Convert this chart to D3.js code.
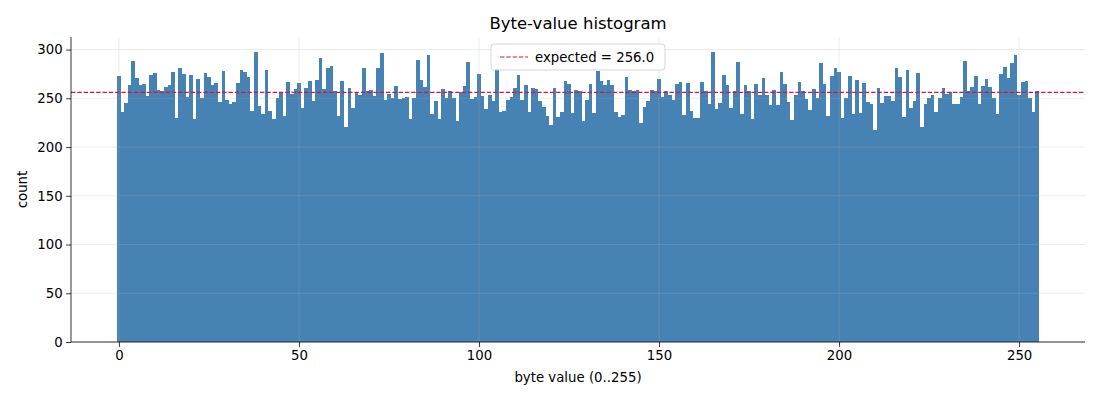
<!DOCTYPE html>
<html>
<head>
<meta charset="utf-8">
<script src="https://cdn.jsdelivr.net/npm/d3@7"></script>
<style>
  html, body { margin: 0; padding: 0; background: #fff; }
  svg { display: block; font-family: "DejaVu Sans", sans-serif; }
</style>
</head>
<body>
<svg id="chart" width="1100" height="400"></svg>
<script>
// ---- data ----
const counts = [
  273,236,245,264,288,271,264,265,252,274,276,259,258,262,264,277,
  230,281,275,251,274,229,270,250,276,272,264,266,246,278,248,244,
  246,266,279,277,272,237,298,242,234,279,237,229,250,256,232,267,
  254,260,266,240,261,268,247,269,291,260,281,283,257,232,268,221,
  261,240,255,253,281,258,259,252,281,296,248,254,250,263,249,250,
  251,229,250,289,269,262,294,234,247,229,260,250,258,250,227,256,
  263,287,249,251,275,252,239,253,247,280,236,237,248,251,261,274,
  248,264,236,261,260,247,241,232,223,261,231,236,268,265,235,259,
  257,227,248,265,235,278,268,264,269,264,236,231,233,272,259,257,
  259,225,241,247,259,258,270,251,257,253,248,265,267,233,266,237,
  230,230,267,258,244,298,239,245,274,264,240,258,287,234,264,258,
  229,265,253,271,253,243,259,243,277,265,246,228,253,267,258,249,
  238,260,250,286,265,232,273,281,277,230,250,273,234,269,235,266,
  246,244,217,261,245,252,252,247,281,272,231,279,240,247,276,221,
  244,250,253,236,250,261,254,256,244,244,251,288,257,262,273,244,
  263,270,262,250,234,275,282,271,286,294,253,267,268,250,236,258
];
const byteValues = d3.range(256);
const expectedCount = 256.0;
const xTicks = [0, 50, 100, 150, 200, 250];
const yTicks = [0, 50, 100, 150, 200, 250, 300];
const titleText = "Byte-value histogram";
const xLabelText = "byte value (0..255)";
const yLabelText = "count";
const legendText = "expected = " + expectedCount.toFixed(1);

// ---- layout ----
const svg = d3.select("#chart");
const L = 71, R = 1085, T = 37, B = 342;
const dataMin = -0.5, dataMax = 255.5, pad = (dataMax - dataMin) * 0.05;
const x = d3.scaleLinear().domain([dataMin - pad, dataMax + pad]).range([L, R]);
const yMax = d3.max(counts) * 1.05;
const y = d3.scaleLinear().domain([0, yMax]).range([B, T]);

// bars (edges snapped to whole pixels so neighbouring bars meet without seams)
svg.append("g").attr("shape-rendering", "crispEdges")
  .selectAll("rect").data(byteValues).join("rect")
  .attr("x", d => Math.round(x(d - 0.5)))
  .attr("width", d => Math.round(x(d + 0.5)) - Math.round(x(d - 0.5)))
  .attr("y", d => Math.round(y(counts[d])))
  .attr("height", d => Math.round(y(0)) - Math.round(y(counts[d])))
  .attr("fill", "#4682b4");

// grid (drawn above bars, translucent)
const grid = svg.append("g").attr("stroke", "#b0b0b0").attr("stroke-opacity", 0.3).attr("stroke-width", 0.8);
grid.selectAll("line.gx").data(xTicks).join("line").attr("class", "gx")
  .attr("x1", d => x(d)).attr("x2", d => x(d)).attr("y1", T).attr("y2", B);
grid.selectAll("line.gy").data(yTicks).join("line").attr("class", "gy")
  .attr("x1", L).attr("x2", R).attr("y1", d => y(d)).attr("y2", d => y(d));

// expected line
svg.append("line")
  .attr("x1", L).attr("x2", R).attr("y1", y(expectedCount)).attr("y2", y(expectedCount))
  .attr("stroke", "#dc143c").attr("stroke-width", 1.2).attr("stroke-dasharray", "4.4,1.9");

// axes
const xAxis = d3.axisBottom(x).tickValues(xTicks).tickSize(4.9).tickPadding(3.5).tickFormat(d3.format("d"));
const yAxis = d3.axisLeft(y).tickValues(yTicks).tickSize(4.9).tickPadding(3.5).tickFormat(d3.format("d"));
const gx = svg.append("g").attr("transform", `translate(0,${B})`).call(xAxis);
const gy = svg.append("g").attr("transform", `translate(${L},0)`).call(yAxis);
[gx, gy].forEach(g => {
  g.select(".domain").remove();
  g.selectAll(".tick line").attr("stroke", "#000").attr("stroke-width", 0.8);
  g.selectAll(".tick text").attr("fill", "#000").style("font-size", "13.3px").style("font-family", "DejaVu Sans");
});
// spines
svg.append("line").attr("x1", L).attr("x2", L).attr("y1", T).attr("y2", B).attr("stroke", "#000").attr("stroke-width", 0.8);
svg.append("line").attr("x1", L).attr("x2", R).attr("y1", B).attr("y2", B).attr("stroke", "#000").attr("stroke-width", 0.8);

// title and labels
svg.append("text").attr("x", (L + R) / 2).attr("y", 29).attr("text-anchor", "middle")
  .style("font-size", "16.5px").attr("fill", "#000").text(titleText);
svg.append("text").attr("x", (L + R) / 2).attr("y", 382).attr("text-anchor", "middle")
  .style("font-size", "13.3px").attr("fill", "#000").text(xLabelText);
svg.append("text").attr("transform", `translate(27,${(T + B) / 2}) rotate(-90)`).attr("text-anchor", "middle")
  .style("font-size", "13.3px").attr("fill", "#000").text(yLabelText);

// legend
const lg = svg.append("g");
const lw = 174, lh = 26, lx = (L + R) / 2 - lw / 2, ly = T + 7;
lg.append("rect").attr("x", lx).attr("y", ly).attr("width", lw).attr("height", lh).attr("rx", 3)
  .attr("fill", "#fff").attr("fill-opacity", 0.8).attr("stroke", "#cccccc").attr("stroke-width", 0.8);
lg.append("line").attr("x1", lx + 9).attr("x2", lx + 37).attr("y1", ly + lh / 2).attr("y2", ly + lh / 2)
  .attr("stroke", "#dc143c").attr("stroke-width", 1.2).attr("stroke-dasharray", "4.4,1.9");
lg.append("text").attr("x", lx + 44).attr("y", ly + lh / 2 + 4.8)
  .style("font-size", "13.3px").attr("fill", "#000").text(legendText);
</script>
</body>
</html>
